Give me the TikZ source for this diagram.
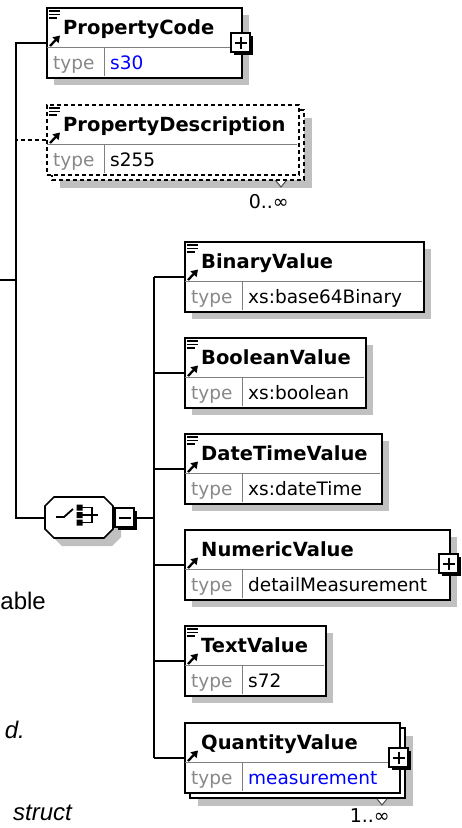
\documentclass[tikz,border=0pt]{standalone}
\usepackage{fontspec}
\setmainfont{DejaVu Sans}
\newfontfamily\pagefont{Liberation Sans}
\usetikzlibrary{calc,arrows.meta}
\definecolor{shade}{RGB}{192,192,192}
\definecolor{typegray}{RGB}{136,136,136}
\definecolor{divgray}{RGB}{128,128,128}
\definecolor{xblue}{RGB}{0,0,255}
\tikzset{
  elem/.style={draw=black, line width=1.8pt, fill=white, inner sep=0pt, rectangle, anchor=north west, minimum height=70pt},
  divline/.style={draw=divgray, line width=1pt},
  conn/.style={draw=black, line width=1.6pt},
  nametext/.style={font=\fontsize{19.5}{22}\selectfont\bfseries, anchor=base west, inner sep=0pt},
  typetext/.style={font=\fontsize{18.5}{22}\selectfont, anchor=base west, inner sep=0pt, text=typegray},
  valtext/.style={font=\fontsize{18.5}{22}\selectfont, anchor=base west, inner sep=0pt},
  occtext/.style={font=\fontsize{19}{22}\selectfont, anchor=base east, inner sep=0pt},
  pagetext/.style={font=\pagefont\fontsize{24}{28}\selectfont, anchor=base east, inner sep=0pt, text=black},
  shadowbox/.style={fill=shade},
  dashedborder/.style={dash pattern=on 4pt off 3pt},
  backbox/.style={fill=white, draw=black, line width=1.8pt},
  smallbox/.style={fill=white, draw=black, line width=1.5pt},
  iconline/.style={line width=1.6pt},
}
\newcommand\elemshadow[3]{\fill[shadowbox] (#1+8,#2+8) rectangle (#1+8+#3,#2+78);}
\newcommand\elembox[8]{%
  \node[elem, minimum width=#4pt, #8] (#1) at (#2,#3) {};
  \draw[divline] (#2+1,#3+40) -- (#2+#4-1,#3+40);
  \draw[divline] (#2+58,#3+40) -- (#2+58,#3+69);
  \node[nametext] (#1-name) at (#2+17,#3+27.5) {#5};
  \node[typetext] (#1-type) at (#2+7,#3+62.5) {type};
  \node[valtext, text=#7] (#1-val) at (#2+64,#3+62.5) {#6};
}
\newcommand\simpicon[2]{\draw[iconline] (#1+3,#2+4) -- (#1+14,#2+4) (#1+3,#2+7.5) -- (#1+14,#2+7.5) (#1+3,#2+11) -- (#1+11,#2+11);}
\newcommand\refarrow[2]{\draw[line width=2.3pt, -{Triangle[length=6.5pt,width=8pt]}] (#1+4,#2+39) -- (#1+14,#2+28.5);}
\newcommand\plusbox[2]{%
  \fill[black] (#1-7,#2-7) rectangle (#1+12,#2+12);
  \filldraw[smallbox] (#1-10,#2-10) rectangle (#1+9,#2+9);
  \draw[line width=2pt] (#1-6.5,#2-0.5) -- (#1+5.5,#2-0.5) (#1-0.5,#2-6.5) -- (#1-0.5,#2+5.5);}
\newcommand\reptri[2]{\filldraw[fill=white, draw=black!70, line width=1pt] (#1-9,#2-4) -- (#1+9,#2-4) -- (#1,#2+7) -- cycle;}
\begin{document}
\begin{tikzpicture}[x=1pt,y=-1pt]
\useasboundingbox (0,0) rectangle (461,828);
\fill[white] (0,0) rectangle (461,828);

% ---- PropertyCode
\elemshadow{46}{7}{195}
\elembox{pc}{46}{7}{195}{PropertyCode}{s30}{xblue}{}
\simpicon{46}{7}\refarrow{46}{7}
\plusbox{241}{43}

% ---- PropertyDescription (optional, repeated)
\fill[shadowbox] (60,118) rectangle (312,188);
\reptri{281}{180}
\filldraw[backbox, dashedborder] (52,110) rectangle (304,180);
\elembox{pd}{46}{104}{252}{PropertyDescription}{s255}{black}{dashedborder}
\simpicon{46}{104}\refarrow{46}{104}
\node[occtext] (pd-occ) at (289,208) {0..∞};

% ---- choice compositor
\fill[shadowbox] (53,514) -- (62,505) -- (112,505) -- (121,514) -- (121,537) -- (112,546) -- (62,546) -- (53,537) -- cycle;
\node[inner sep=0pt, minimum width=68pt, minimum height=41pt, anchor=north west] (choice) at (45,497) {};
\filldraw[fill=white, line width=1.6pt] (45,506) -- (54,497) -- (104,497) -- (113,506) -- (113,529) -- (104,538) -- (54,538) -- (45,529) -- cycle;
\draw[line width=1.8pt] (56,517) -- (64,517) -- (73,509);
\fill (76.5,504.5) rectangle (82.5,510.5) (76.5,512) rectangle (82.5,518) (76.5,519.5) rectangle (82.5,525.5);
\draw[iconline] (82,507.5) -- (92,507.5) -- (92,522.5) -- (82,522.5) (82,515) -- (98,515);
\node[inner sep=0pt, minimum size=19pt] (minus) at (125,518) {};
\fill[black] (118,511) rectangle (137,530);
\filldraw[smallbox] (115,508) rectangle (134,527);
\draw[line width=2pt] (118.5,517.5) -- (130.5,517.5);

% ---- choice members
\elemshadow{184}{241}{239}
\elembox{bin}{184}{241}{239}{BinaryValue}{xs:base64Binary}{black}{}
\simpicon{184}{241}\refarrow{184}{241}

\elemshadow{184}{337}{181}
\elembox{bool}{184}{337}{181}{BooleanValue}{xs:boolean}{black}{}
\simpicon{184}{337}\refarrow{184}{337}

\elemshadow{184}{433}{197}
\elembox{date}{184}{433}{197}{DateTimeValue}{xs:dateTime}{black}{}
\simpicon{184}{433}\refarrow{184}{433}

\elemshadow{184}{529}{265}
\elembox{num}{184}{529}{265}{NumericValue}{detailMeasurement}{black}{}
\refarrow{184}{529}
\plusbox{449}{564}

\elemshadow{184}{625}{141}
\elembox{txt}{184}{625}{141}{TextValue}{s72}{black}{}
\simpicon{184}{625}\refarrow{184}{625}

\fill[shadowbox] (198,736) rectangle (413,806);
\reptri{382}{798}
\filldraw[backbox] (190,728) rectangle (405,798);
\elembox{qty}{184}{722}{215}{QuantityValue}{measurement}{xblue}{}
\refarrow{184}{722}
\plusbox{399}{758}
\node[occtext] (qty-occ) at (390,822) {1..∞};

% ---- connectors
\coordinate (in) at (0,280);
\coordinate (trunk) at (16,280);
\coordinate (bus) at (154,518);
\draw[conn] (pc.west) -| (trunk) |- (choice.west);
\draw[conn] (in) -- (trunk);
\draw[conn, dashedborder] (pd.west) -- (pd.west -| trunk);
\draw[conn] (minus.east) -- (bus);
\draw[conn] (bin.west -| bus) -- (qty.west -| bus);
\foreach \n in {bin,bool,date,num,txt,qty} \draw[conn] (\n.west -| bus) -- (\n.west);

% ---- page text fragments
\node[pagetext] (frag1) at (46,609) {able};
\node[pagetext, font=\pagefont\fontsize{24}{28}\selectfont\itshape] (frag2) at (25,738) {d.};
\node[pagetext, font=\pagefont\fontsize{24}{28}\selectfont\itshape] (frag3) at (72,820) {struct};
\end{tikzpicture}
\end{document}
